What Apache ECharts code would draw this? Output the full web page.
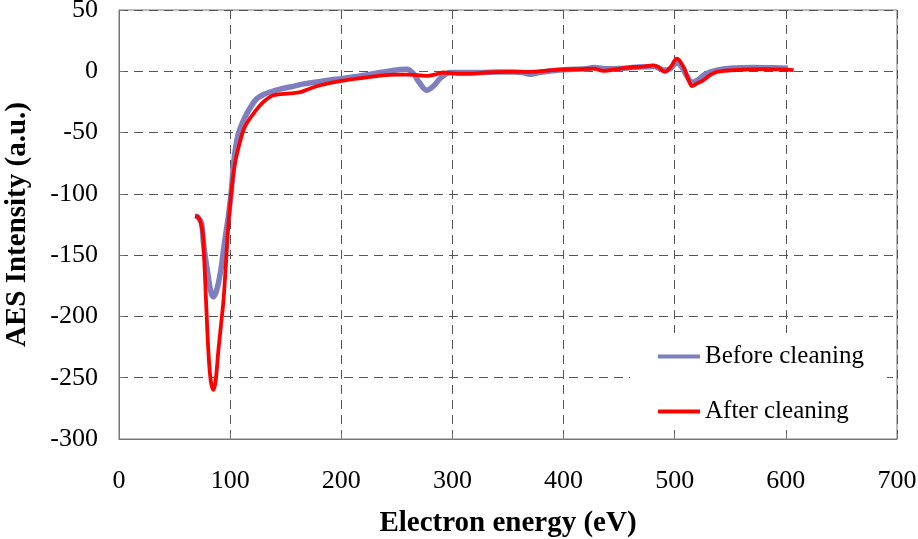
<!DOCTYPE html>
<html>
<head>
<meta charset="utf-8">
<script src="https://cdn.jsdelivr.net/npm/echarts@6/dist/echarts.min.js"></script>
<style>html,body{margin:0;padding:0;background:#fff}#c{width:918px;height:539px}</style>
</head>
<body>
<div id="c"></div>
<script>
var xTicks = [0, 100, 200, 300, 400, 500, 600, 700];
var yTicks = [50, 0, -50, -100, -150, -200, -250, -300];
var seriesNames = ['Before cleaning', 'After cleaning'];

var beforeX = [68.5, 71, 74.3, 76, 80.4, 83, 85, 87, 89.4, 92, 94, 96, 98.3, 101, 103, 105, 107.4, 111, 115, 120, 124, 130, 136, 145, 154, 165, 178, 190, 200, 215, 235, 245, 253, 259, 265, 270, 277, 283, 290, 298, 310, 325, 340, 355, 363, 370, 378, 390, 405, 420, 427, 440, 455, 468, 481, 490, 496, 502, 506, 511, 516, 521, 528, 538, 550, 570, 590, 602];
var beforeY = [-118, -119, -124, -140, -168, -181, -184, -181, -173, -160, -146, -133, -119, -98, -76, -62, -51, -42, -34.5, -27, -22.3, -19, -16.9, -14.5, -12.8, -10.5, -8.7, -7, -6, -4, -1, 0.5, 1.4, 1.6, -2, -9, -15.5, -12, -5, -1, -1, -1, -0.5, -0.5, -1, -2.5, -1, 0.5, 1.5, 2, 3, 2, 2.5, 3.5, 4, 1, 2, 7, 4, -4, -9, -7, -2, 1, 2.5, 3, 2.8, 2.5];

var afterX = [68.5, 71, 73, 75.3, 76.5, 78.3, 80.4, 82.5, 85, 87, 89.4, 92, 94, 96, 98.3, 101, 104.4, 109, 113.4, 121, 130, 139, 154, 163, 172, 181, 200, 223, 247, 260, 271, 277, 285, 292, 305, 316, 330, 350, 370, 385, 397, 415, 427, 436, 450, 463, 472, 481, 486, 491, 496, 502, 508, 512, 515.5, 520, 525.7, 532, 538, 550, 565, 580, 595, 607];
var afterY = [-118, -119, -122, -132, -150, -187, -228, -252, -260, -252, -228, -205, -187, -160, -127, -99, -75, -57, -45, -34.5, -25, -19.6, -18, -17, -14, -11.4, -7.9, -5, -2.7, -2.8, -3.3, -3.8, -2.5, -1, -2, -2, -1, -0.5, -0.5, 0.5, 1.4, 1.8, 2.2, 0.3, 2, 3.5, 3.8, 4.9, 3, -0.5, 3, 10.3, 3.5, -6, -12, -10, -7.3, -3, -0.5, 0.8, 1.5, 1.8, 1.5, 1];

function pairs(xs, ys) { return xs.map(function (x, i) { return [x, ys[i]]; }); }
function plain(v) { return String(v); }

var FONT = '"Liberation Serif", "Times New Roman", serif';
var chart = echarts.init(document.getElementById('c'), null, { renderer: 'canvas' });
var gridLine = { show: true, lineStyle: { color: '#555', type: [9, 6], width: 1 } };
var axisLine = { show: true, onZero: false, lineStyle: { color: '#777', width: 1 } };

chart.setOption({
  animation: false,
  backgroundColor: '#fff',
  grid: { left: 119, right: 21, top: 10, bottom: 100, show: true, borderColor: '#777', borderWidth: 1, backgroundColor: 'transparent', outerBoundsMode: 'none', containLabel: false },
  legend: {
    orient: 'vertical',
    left: 630, top: 333,
    padding: [11, 23, 3, 28],
    backgroundColor: '#fff',
    itemWidth: 42, itemHeight: 14, itemGap: 30,
    icon: 'path://M0,0L42,0L42,4L0,4Z',
    textStyle: { fontFamily: FONT, fontSize: 25, color: '#000', lineHeight: 22 },
    data: seriesNames
  },
  xAxis: {
    type: 'value', min: xTicks[0], max: xTicks[xTicks.length - 1], interval: 100,
    name: 'Electron energy (eV)', nameLocation: 'middle', nameGap: 70,
    nameTextStyle: { fontFamily: FONT, fontSize: 29, fontWeight: 'bold', color: '#000' },
    axisLine: axisLine,
    axisTick: { show: true, inside: true, length: 5, lineStyle: { color: '#777' } },
    axisLabel: { fontFamily: FONT, fontSize: 26, color: '#000', margin: 29, formatter: plain },
    splitLine: gridLine
  },
  yAxis: {
    type: 'value', min: yTicks[yTicks.length - 1], max: yTicks[0], interval: 50,
    name: 'AES Intensity (a.u.)', nameLocation: 'middle', nameGap: 87,
    nameTextStyle: { fontFamily: FONT, fontSize: 29, fontWeight: 'bold', color: '#000' },
    axisLine: axisLine,
    axisTick: { show: true, inside: true, length: 5, lineStyle: { color: '#777' } },
    axisLabel: { fontFamily: FONT, fontSize: 26, color: '#000', margin: 21, formatter: plain },
    splitLine: gridLine
  },
  series: [
    {
      name: seriesNames[0], type: 'line', data: pairs(beforeX, beforeY),
      showSymbol: false, smooth: 0.35,
      lineStyle: { color: '#7f7fbf', width: 5.5 }, itemStyle: { color: '#7f7fbf' }, z: 2
    },
    {
      name: seriesNames[1], type: 'line', data: pairs(afterX, afterY),
      showSymbol: false, smooth: 0.35,
      lineStyle: { color: '#ff0000', width: 3.8 }, itemStyle: { color: '#ff0000' }, z: 3
    }
  ]
});
</script>
</body>
</html>
